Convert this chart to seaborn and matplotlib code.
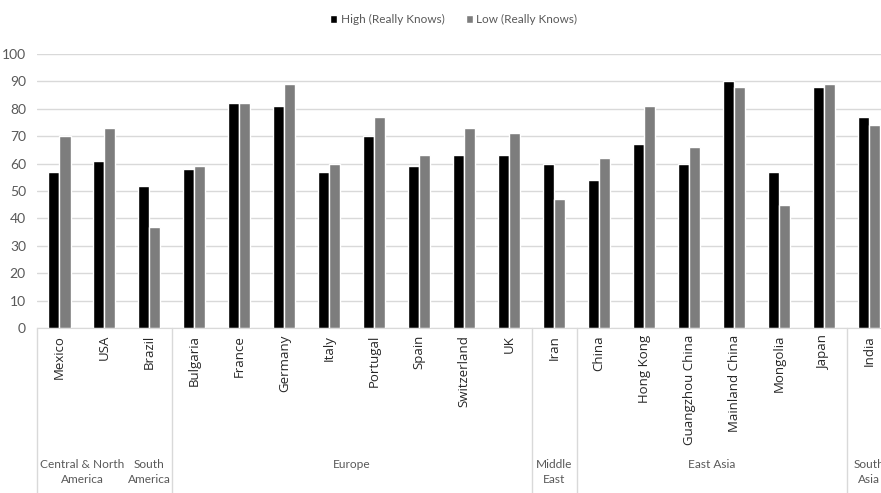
import numpy as np
import pandas as pd
import matplotlib
matplotlib.use("Agg")
import matplotlib.pyplot as plt
import matplotlib.transforms as mtransforms
import seaborn as sns

# ── DATA ─────────────────────────────────────────────────────────────────────
countries = ["Mexico", "USA", "Brazil", "Bulgaria", "France", "Germany", "Italy",
             "Portugal", "Spain", "Switzerland", "UK", "Iran", "China", "Hong Kong",
             "Guangzhou China", "Mainland China", "Mongolia", "Japan", "India"]
high_vals = [57, 61, 52, 58, 82, 81, 57, 70, 59, 63, 63, 60, 54, 67, 60, 90, 57, 88, 77]
low_vals = [70, 73, 37, 59, 82, 89, 60, 77, 63, 73, 71, 47, 62, 81, 66, 88, 45, 89, 74]
series_names = ["High (Really Knows)", "Low (Really Knows)"]
regions = ["Central & North\nAmerica", "South\nAmerica", "Europe", "Middle\nEast", "East Asia", "South\nAsia"]
region_sizes = [2, 1, 8, 1, 6, 1]

df = pd.DataFrame({
    "country": countries * 2,
    "value": high_vals + low_vals,
    "series": [series_names[0]] * len(countries) + [series_names[1]] * len(countries),
})

# ── STYLE ────────────────────────────────────────────────────────────────────
sns.set_style("white")
plt.rcParams["font.family"] = ["Lato", "DejaVu Sans"]

fig = plt.figure(figsize=(8.81, 4.93), dpi=100)
ax = fig.add_axes([37 / 881, 165 / 493, 1 - 37 / 881, 274 / 493])

sns.barplot(data=df, x="country", y="value", hue="series", order=countries,
            hue_order=series_names, palette=["#000000", "#7d7d7d"], width=0.49,
            saturation=1, ax=ax, legend=True)

ax.set_ylim(0, 100)
ax.set_xlim(-0.5, (881 - 59) / 45)
ax.set_yticks(np.arange(0, 101, 10))
ax.yaxis.grid(True, color="#d9d9d9", lw=1)
ax.set_axisbelow(True)
for s in ["top", "right", "left"]:
    ax.spines[s].set_visible(False)
ax.spines["bottom"].set_color("#d9d9d9")
ax.tick_params(axis="y", length=0, labelsize=10, labelcolor="#595959", pad=8)
ax.tick_params(axis="x", length=0, pad=5)
ax.set_xticks(range(len(countries)))
ax.set_xticklabels(countries, rotation=90, fontsize=9.5, color="#262626",
                   family=["Open Sans", "DejaVu Sans"], va="top")
ax.set_xlabel("")
ax.set_ylabel("")

# region separators and labels
trans = mtransforms.blended_transform_factory(ax.transData, ax.transAxes)
bounds = np.concatenate([[0], np.cumsum(region_sizes)]) - 0.5
for b in [bounds[0], bounds[2], bounds[3], bounds[4], bounds[5]]:
    ax.plot([b, b], [0, -0.61], transform=trans, color="#d9d9d9", lw=1, clip_on=False)
for name, lo, hi in zip(regions, bounds[:-1], bounds[1:]):
    ax.text((lo + hi) / 2, -0.478, name, transform=trans, ha="center", va="top",
            fontsize=8.6, color="#595959", linespacing=1.45, multialignment="center")

leg = ax.legend(loc="center", bbox_to_anchor=(0.515, 0.96), bbox_transform=fig.transFigure,
                ncol=2, frameon=False, fontsize=8.5, handlelength=0.6, handleheight=0.7,
                handletextpad=0.3, columnspacing=1.8, labelcolor="#595959")

fig.savefig("out.png", dpi=100)
